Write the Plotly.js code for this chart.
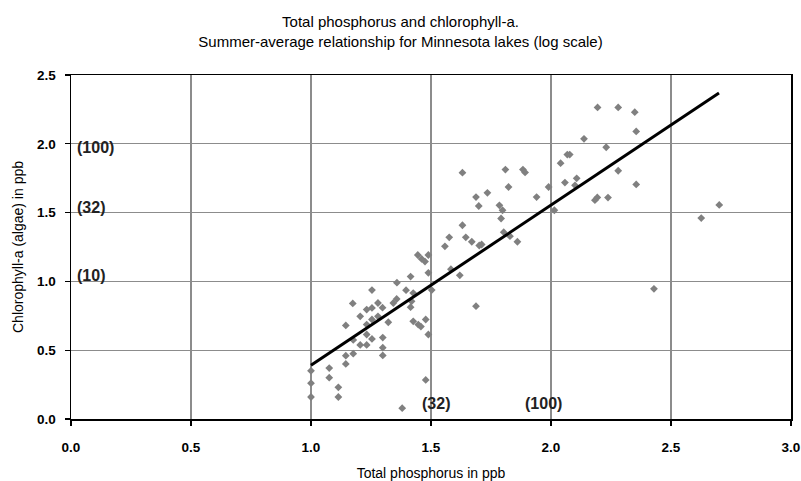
<!DOCTYPE html>
<html>
<head>
<meta charset="utf-8">
<script src="https://cdn.plot.ly/plotly-3.0.1.min.js"></script>
<style>
html,body{margin:0;padding:0;background:#fff;}
#chart{width:801px;height:481px;}
</style>
</head>
<body>
<div id="chart"></div>
<script>
// Log10 total phosphorus (x) and log10 chlorophyll-a (y)
const logTP = [
  1.00, 1.00, 1.00, 1.076, 1.076, 1.114, 1.114, 1.145, 1.145, 1.145,
  1.174, 1.176, 1.176, 1.205, 1.205, 1.232, 1.232, 1.232, 1.232, 1.254,
  1.254, 1.254, 1.254, 1.279, 1.279, 1.298, 1.299, 1.299, 1.299, 1.322,
  1.343, 1.358, 1.357, 1.380, 1.396, 1.415, 1.419, 1.415, 1.426, 1.426,
  1.447, 1.458, 1.478, 1.489, 1.478, 1.503, 1.489, 1.445, 1.461, 1.475,
  1.489, 1.583, 1.620, 1.558, 1.576, 1.631, 1.631, 1.645, 1.670, 1.701,
  1.711, 1.6875, 1.6875, 1.699, 1.735, 1.785, 1.798, 1.792, 1.803, 1.829,
  1.860, 1.810, 1.823, 1.883, 1.892, 1.940, 1.990, 2.014, 2.040, 2.068,
  2.078, 2.058, 2.100, 2.107, 2.1375, 2.183, 2.193, 2.2375, 2.194, 2.280,
  2.349, 2.355, 2.230, 2.280, 2.355, 2.429, 2.626, 2.701
];
const logChl = [
  0.35, 0.26, 0.16, 0.37, 0.30, 0.23, 0.16, 0.68, 0.46, 0.40,
  0.84, 0.475, 0.575, 0.746, 0.538, 0.795, 0.686, 0.614, 0.538, 0.937,
  0.807, 0.723, 0.582, 0.843, 0.746, 0.809, 0.592, 0.518, 0.462, 0.703,
  0.843, 0.991, 0.872, 0.079, 0.936, 1.035, 0.855, 0.813, 0.915, 0.710,
  0.686, 0.672, 0.723, 0.614, 0.284, 0.937, 1.062, 1.192, 1.163, 1.144,
  1.192, 1.089, 1.044, 1.255, 1.320, 1.408, 1.790, 1.320, 1.288, 1.261,
  1.268, 0.820, 1.613, 1.548, 1.644, 1.553, 1.517, 1.457, 1.358, 1.329,
  1.288, 1.813, 1.686, 1.813, 1.792, 1.613, 1.686, 1.517, 1.859, 1.922,
  1.922, 1.718, 1.698, 1.749, 2.036, 1.590, 1.610, 1.609, 2.264, 2.264,
  2.230, 2.090, 1.975, 1.804, 1.705, 0.946, 1.460, 1.556
];
// Regression (trend) line end points
const fitX = [1.0, 2.7];
const fitY = [0.39, 2.37];

// Tick values and labels
const xTicks = [0.0, 0.5, 1.0, 1.5, 2.0, 2.5, 3.0];
const yTicks = [0.0, 0.5, 1.0, 1.5, 2.0, 2.5];
const fmt = v => v.toFixed(1);

// Reference labels (actual ppb values)
const yRefLabels = ["(100)", "(32)", "(10)"];
const xRefLabels = ["(32)", "(100)"];

const traces = [
  {
    x: logTP, y: logChl, type: 'scatter', mode: 'markers',
    marker: {symbol: 'diamond', size: 6, color: '#808080'},
    hoverinfo: 'skip', showlegend: false
  },
  {
    x: fitX, y: fitY, type: 'scatter', mode: 'lines',
    line: {color: '#000000', width: 3},
    hoverinfo: 'skip', showlegend: false
  }
];

const annFont = {family: 'Liberation Sans, Arial, sans-serif', size: 16, color: '#222', weight: 'bold'};
const annotations = [
  {x: 0.015, y: 1.97, text: '<b>' + yRefLabels[0] + '</b>'},
  {x: 0.015, y: 1.54, text: '<b>' + yRefLabels[1] + '</b>'},
  {x: 0.015, y: 1.04, text: '<b>' + yRefLabels[2] + '</b>'},
].map(a => Object.assign(a, {xref: 'x', yref: 'y', xanchor: 'left', yanchor: 'middle', showarrow: false, font: annFont}))
.concat([
  {x: 1.52, y: 0.115, text: '<b>' + xRefLabels[0] + '</b>'},
  {x: 1.967, y: 0.115, text: '<b>' + xRefLabels[1] + '</b>'},
].map(a => Object.assign(a, {xref: 'x', yref: 'y', xanchor: 'center', yanchor: 'middle', showarrow: false, font: annFont})));

const layout = {
  width: 801, height: 481,
  margin: {l: 71, r: 10, t: 74.5, b: 61.5},
  paper_bgcolor: '#ffffff', plot_bgcolor: '#ffffff',
  font: {family: 'Liberation Sans, Arial, sans-serif', color: '#000'},
  title: {
    text: 'Total phosphorus and chlorophyll-a.<br>Summer-average relationship for Minnesota lakes (log scale)',
    x: 0.5, xanchor: 'center', xref: 'container',
    y: 1 - 27 / 481, yanchor: 'middle', yref: 'container',
    font: {size: 15, color: '#000'}
  },
  xaxis: {
    range: [0, 3.0], tickvals: xTicks, ticktext: xTicks.map(fmt),
    showgrid: true, gridcolor: '#8c8c8c', gridwidth: 1.3,
    showline: true, linecolor: '#000', linewidth: 1.5, mirror: true,
    ticks: 'outside', ticklen: 5, tickcolor: '#000', tickwidth: 1.3,
    ticklabelstandoff: 10,
    tickfont: {size: 13.5, weight: 'bold'},
    zeroline: false,
    title: {text: 'Total phosphorus in ppb', font: {size: 14}, standoff: 16}
  },
  yaxis: {
    range: [0, 2.5], tickvals: yTicks, ticktext: yTicks.map(fmt),
    showgrid: true, gridcolor: '#8c8c8c', gridwidth: 1.3,
    showline: true, linecolor: '#000', linewidth: 1.5, mirror: true,
    ticks: 'outside', ticklen: 5, tickcolor: '#000', tickwidth: 1.3,
    ticklabelstandoff: 6,
    tickfont: {size: 13.5, weight: 'bold'},
    zeroline: false,
    title: {text: 'Chlorophyll-a (algae) in ppb', font: {size: 14}, standoff: 10}
  },
  annotations: annotations
};

Plotly.newPlot('chart', traces, layout, {staticPlot: true, displayModeBar: false});
</script>
</body>
</html>
